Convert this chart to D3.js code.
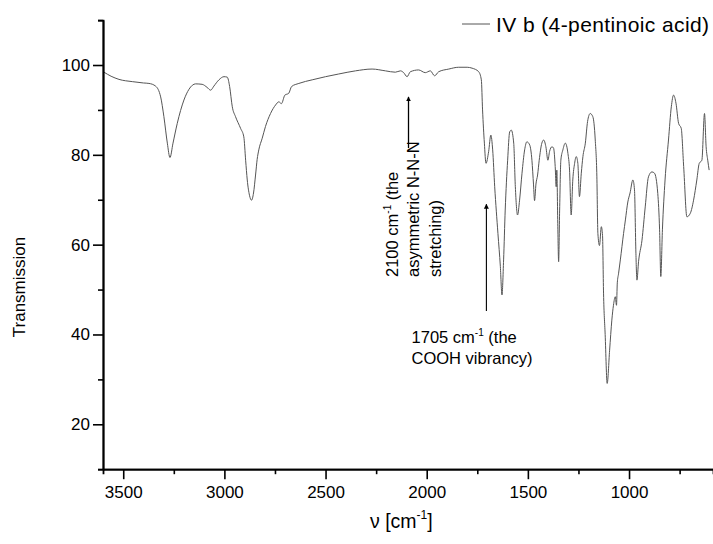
<!DOCTYPE html>
<html>
<head>
<meta charset="utf-8">
<script src="https://cdn.jsdelivr.net/npm/d3@7"></script>
<style>
  body { margin: 0; background: #fff; }
  svg { font-family: "Liberation Sans", Arial, sans-serif; }
</style>
</head>
<body>
<script>
// IR spectrum: wavenumber (cm-1) and transmission
const wavenumbers = [
  3595, 3560, 3521, 3455, 3400, 3373, 3340, 3315, 3299, 3282, 3269, 3254, 3233, 3200,
  3175, 3142, 3110, 3085, 3068, 3052, 3027, 3002, 2986, 2974, 2961, 2945, 2920, 2904,
  2895, 2887, 2876, 2866, 2856, 2846, 2838, 2830, 2813, 2797, 2772, 2747, 2731, 2718,
  2701, 2682, 2668, 2632, 2566, 2500, 2435, 2352, 2270, 2204, 2155, 2130, 2114, 2097,
  2081, 2040, 2007, 1982, 1961, 1941, 1891, 1842, 1800, 1776, 1743, 1730, 1724, 1715,
  1707, 1694, 1683, 1674, 1664, 1648, 1636, 1628, 1620, 1612, 1600, 1590, 1582, 1570,
  1562, 1551, 1541, 1529, 1516, 1505, 1491, 1480, 1472, 1467, 1460, 1452, 1444, 1431,
  1422, 1411, 1401, 1393, 1381, 1373, 1365, 1360, 1357, 1352, 1348, 1343, 1337, 1327,
  1315, 1302, 1294, 1286, 1278, 1269, 1261, 1253, 1245, 1236, 1228, 1216, 1205, 1192,
  1179, 1167, 1159, 1154, 1146, 1137, 1131, 1126, 1118, 1108, 1096, 1085, 1077, 1068,
  1062, 1058, 1052, 1043, 1027, 1018, 1006, 995, 981, 973, 966, 961, 953, 936,
  920, 904, 887, 874, 858, 849, 843, 835, 822, 805, 791, 780, 768, 755,
  742, 730, 714, 697, 681, 665, 653, 640, 627, 619, 611, 604
];
const transmission = [
  98.4, 97.5, 96.8, 96.3, 96.0, 95.9, 95.3, 92.9, 88.5, 82.6, 79.4, 82.6, 87.0, 92.2,
  94.6, 95.8, 95.7, 95.0, 94.4, 95.3, 96.7, 97.4, 97.3, 95.2, 90.7, 88.5, 85.9, 84.0,
  78.8, 74.4, 71.0, 69.9, 71.5, 75.5, 79.0, 81.1, 83.7, 86.3, 89.2, 91.1, 91.8, 91.4,
  93.3, 93.7, 95.2, 95.9, 96.7, 97.4, 98.0, 98.7, 99.1, 98.7, 98.4, 98.7, 98.3, 97.4,
  98.5, 98.9, 98.3, 98.7, 97.6, 98.5, 99.1, 99.5, 99.5, 99.3, 98.5, 96.7, 90.0, 82.6,
  78.1, 80.7, 84.4, 81.1, 72.9, 62.5, 55.1, 48.8, 56.6, 67.7, 78.8, 85.1, 85.5, 82.6,
  72.9, 66.6, 69.9, 75.9, 81.1, 82.9, 82.2, 78.8, 73.3, 69.8, 73.5, 75.5, 78.8, 82.6,
  83.3, 81.8, 78.8, 80.7, 81.8, 81.5, 77.4, 72.9, 76.6, 64.0, 56.2, 67.7, 78.8, 81.1,
  82.6, 80.3, 76.6, 66.6, 74.4, 78.1, 79.6, 78.1, 70.7, 75.9, 79.6, 82.6, 87.4, 89.2,
  88.5, 83.3, 75.1, 62.5, 59.8, 64.0, 62.0, 49.2, 40.0, 29.1, 36.5, 43.2, 46.5, 48.4,
  46.5, 51.5, 53.5, 56.6, 62.5, 65.5, 69.5, 71.5, 74.4, 72.2, 58.1, 52.1, 56.2, 61.0,
  68.4, 75.1, 76.2, 75.9, 71.4, 63.3, 52.9, 63.3, 74.4, 83.3, 90.7, 93.3, 91.5, 87.0,
  85.9, 77.4, 66.2, 67.0, 69.9, 74.4, 78.1, 78.8, 89.2, 81.8, 78.8, 76.6
];
const xMajorTicks = [3500, 3000, 2500, 2000, 1500, 1000];
const xMinorTicks = [3250, 2750, 2250, 1750, 1250, 750];
const yMajorTicks = [20, 40, 60, 80, 100];
const yMinorTicks = [10, 30, 50, 70, 90, 110];
const seriesName = "IV b (4-pentinoic acid)";

const width = 713;
const height = 544;

const svg = d3.select("body")
  .append("svg")
  .attr("width", width)
  .attr("height", height);

const x = d3.scaleLinear().domain([3600, 585]).range([103, 713]);
const y = d3.scaleLinear().domain([10, 110]).range([469.2, 20.1]);

const data = wavenumbers.map((w, i) => ({ w: w, t: transmission[i] }));

// spectrum
svg.append("path")
  .datum(data)
  .attr("fill", "none")
  .attr("stroke", "#555")
  .attr("stroke-width", 1)
  .attr("d", d3.line()
    .x(d => x(d.w))
    .y(d => y(d.t))
    .curve(d3.curveMonotoneX));

// x axis
const xAxisG = svg.append("g").attr("transform", "translate(0," + y(10) + ")");
xAxisG.call(d3.axisBottom(x).tickValues(xMinorTicks).tickSize(5).tickFormat(""));
xAxisG.append("g").call(d3.axisBottom(x).tickValues(xMajorTicks).tickSize(10)
  .tickSizeOuter(0).tickPadding(7).tickFormat(d3.format("d")));

// y axis
const yAxisG = svg.append("g").attr("transform", "translate(" + x(3600) + ",0)");
yAxisG.call(d3.axisLeft(y).tickValues(yMinorTicks).tickSize(5).tickFormat(""));
yAxisG.append("g").call(d3.axisLeft(y).tickValues(yMajorTicks).tickSize(10)
  .tickSizeOuter(0).tickPadding(3).tickFormat(d3.format("d")));

svg.selectAll(".domain").attr("stroke", "#000").attr("stroke-width", 1.8);
svg.selectAll(".tick line").attr("stroke", "#000").attr("stroke-width", 1.6);
svg.selectAll(".tick text")
  .attr("fill", "#000")
  .style("font-size", "17px")
  .style("font-family", "'Liberation Sans', Arial, sans-serif");

// axis titles
svg.append("text")
  .attr("transform", "translate(25,287) rotate(-90)")
  .attr("text-anchor", "middle")
  .style("font-size", "17px")
  .text("Transmission");

const xTitle = svg.append("text")
  .attr("x", 370)
  .attr("y", 528)
  .style("font-size", "19.5px");
xTitle.append("tspan").text("ν [cm");
xTitle.append("tspan").attr("dy", -9).style("font-size", "12px").text("-1");
xTitle.append("tspan").attr("dy", 9).text("]");

// legend
svg.append("line")
  .attr("x1", 462).attr("x2", 490)
  .attr("y1", 24).attr("y2", 24)
  .attr("stroke", "#555")
  .attr("stroke-width", 1);
svg.append("text")
  .attr("x", 496)
  .attr("y", 32)
  .style("font-size", "21px")
  .style("letter-spacing", "0.4px")
  .text(seriesName);

// arrowhead
svg.append("defs").append("marker")
  .attr("id", "head")
  .attr("viewBox", "0 0 10 10")
  .attr("refX", 9).attr("refY", 5)
  .attr("markerWidth", 5).attr("markerHeight", 6)
  .attr("markerUnits", "userSpaceOnUse")
  .attr("orient", "auto")
  .append("path")
  .attr("d", "M0,0 L10,5 L0,10 Z")
  .attr("fill", "#000");

// 2100 cm-1 annotation (rotated)
const azideLines = [
  ["2100 cm", "-1", " (the"],
  ["asymmetric N-N-N"],
  ["stretching)"]
];
azideLines.forEach((parts, i) => {
  const t = svg.append("text")
    .attr("transform", "translate(" + (x(2142) + i * 21.5) + "," + y(52.8) + ") rotate(-90)")
    .style("font-size", "16.5px");
  t.append("tspan").text(parts[0]);
  if (parts.length > 1) {
    t.append("tspan").attr("dy", -7).style("font-size", "10px").text(parts[1]);
    t.append("tspan").attr("dy", 7).text(parts[2]);
  }
});
svg.append("line")
  .attr("x1", x(2090)).attr("x2", x(2090))
  .attr("y1", y(81.5)).attr("y2", y(92.9))
  .attr("stroke", "#000")
  .attr("stroke-width", 1.3)
  .attr("marker-end", "url(#head)");

// 1705 cm-1 annotation
svg.append("line")
  .attr("x1", x(1705)).attr("x2", x(1705))
  .attr("y1", y(45.2)).attr("y2", y(69.0))
  .attr("stroke", "#000")
  .attr("stroke-width", 1.1)
  .attr("marker-end", "url(#head)");
const acidText = svg.append("text")
  .attr("x", x(2075))
  .attr("y", y(38.0))
  .style("font-size", "16.5px");
acidText.append("tspan").text("1705 cm");
acidText.append("tspan").attr("dy", -7).style("font-size", "10px").text("-1");
acidText.append("tspan").attr("dy", 7).text(" (the");
svg.append("text")
  .attr("x", x(2075))
  .attr("y", y(33.4))
  .style("font-size", "16.5px")
  .text("COOH vibrancy)");
</script>
</body>
</html>
